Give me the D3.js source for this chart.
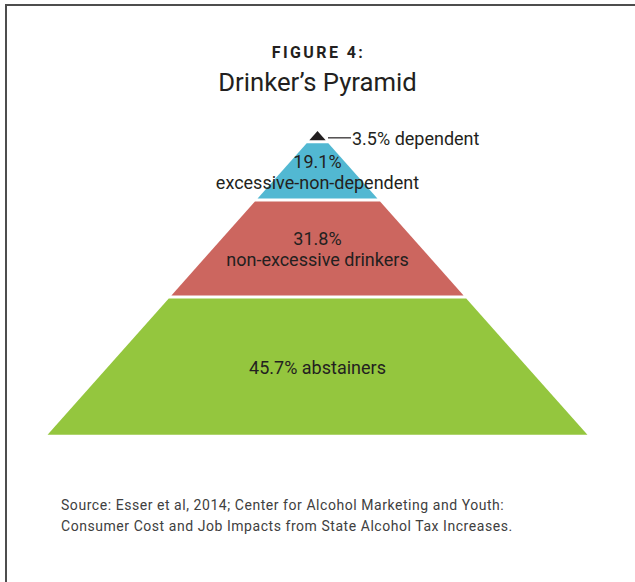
<!DOCTYPE html>
<html>
<head>
<meta charset="utf-8">
<script src="https://cdn.jsdelivr.net/npm/d3@7"></script>
<style>
  body { margin: 0; background: #fff; }
  svg { display: block; }
</style>
</head>
<body>
<div id="chart"></div>
<script>
// Data
const layers = ["dependent", "excessive-non-dependent", "non-excessive drinkers", "abstainers"];
const shares = [3.5, 19.1, 31.8, 45.7];
const colors = ["#231f20", "#52b8d2", "#cc665f", "#94c63e"];
const labelLines = [
    [],
    ["19.1%", "excessive-non-dependent"],
    ["31.8%", "non-excessive drinkers"],
    ["45.7% abstainers"]
];
const calloutText = "3.5% dependent";
const sourceLines = [
    "Source: Esser et al, 2014; Center for Alcohol Marketing and Youth:",
    "Consumer Cost and Job Impacts from State Alcohol Tax Increases."
];

const W = 635, H = 582;
const FONT = "Roboto, 'Open Sans', sans-serif";
const TEXT = "#231f20";
const GAP = 1.5;
const CX = 317.5;
const LINE_H = [0, 21, 21, 0];

const svg = d3.select("#chart").append("svg")
    .attr("width", W).attr("height", H)
    .attr("viewBox", [0, 0, W, H]);

// Frame (only top and left edges fall inside the picture)
svg.append("path")
    .attr("d", `M6,${H + 5}V5H${W + 5}`)
    .attr("fill", "none").attr("stroke", "#4d4d4d").attr("stroke-width", 2);

// Titles
svg.append("text")
    .attr("x", CX + 1).attr("y", 58).attr("text-anchor", "middle")
    .attr("font-family", FONT).attr("font-weight", 700).attr("font-size", 16)
    .attr("letter-spacing", 2.4).attr("fill", TEXT)
    .text("FIGURE 4:");

svg.append("text")
    .attr("x", CX).attr("y", 91).attr("text-anchor", "middle")
    .attr("font-family", FONT).attr("font-size", 25.7).attr("fill", TEXT)
    .text("Drinker\u2019s Pyramid");

// Cumulative shares -> vertical position and half-width
let acc = 0;
const bands = shares.map((v, i) => {
    const b = { name: layers[i], start: acc, end: acc + v, color: colors[i], lines: labelLines[i], lh: LINE_H[i] };
    acc += v;
    return b;
});

const y = d3.scaleLinear().domain([0, 100]).range([131, 436]);
const halfW = d3.scaleLinear().domain([0, 100]).range([0, 271]);

const bandPath = b => {
    const y0 = y(b.start) + (b.start === 0 ? 0 : GAP);
    const y1 = y(b.end) - (b.end === 100 ? 0 : GAP);
    const w0 = halfW(y.invert(y0)), w1 = halfW(y.invert(y1));
    return d3.line()([
        [CX - w0, y0], [CX + w0, y0], [CX + w1, y1], [CX - w1, y1]
    ]) + "Z";
};

svg.append("g").selectAll("path").data(bands).join("path")
    .attr("d", bandPath)
    .attr("fill", d => d.color);

// Band labels
const labelG = svg.append("g")
    .attr("font-family", FONT).attr("font-size", 18).attr("fill", TEXT)
    .attr("text-anchor", "middle");

bands.forEach(b => {
    if (!b.lines.length) return;
    const mid = (y(b.start) + y(b.end)) / 2;
    const first = mid - (b.lines.length - 1) * b.lh / 2 + 7.5;
    b.lines.forEach((t, j) => {
        labelG.append("text")
            .attr("x", CX).attr("y", first + j * b.lh)
            .text(t);
    });
});

// Callout for the tip
const tip = bands[0];
const tipY = (y(tip.start) + y(tip.end)) / 2 + 1.5;
svg.append("line")
    .attr("x1", CX + halfW(tip.end) + 1).attr("x2", 351)
    .attr("y1", tipY).attr("y2", tipY)
    .attr("stroke", TEXT).attr("stroke-width", 1.2);
svg.append("text")
    .attr("x", 352).attr("y", 144.5)
    .attr("font-family", FONT).attr("font-size", 18).attr("fill", TEXT)
    .text(calloutText);

// Source note
svg.append("g")
    .attr("font-family", FONT).attr("font-size", 14).attr("letter-spacing", 0.55)
    .attr("fill", "#404040")
    .selectAll("text").data(sourceLines).join("text")
    .attr("x", 61).attr("y", (d, i) => 510 + i * 21)
    .text(d => d);
</script>
</body>
</html>
